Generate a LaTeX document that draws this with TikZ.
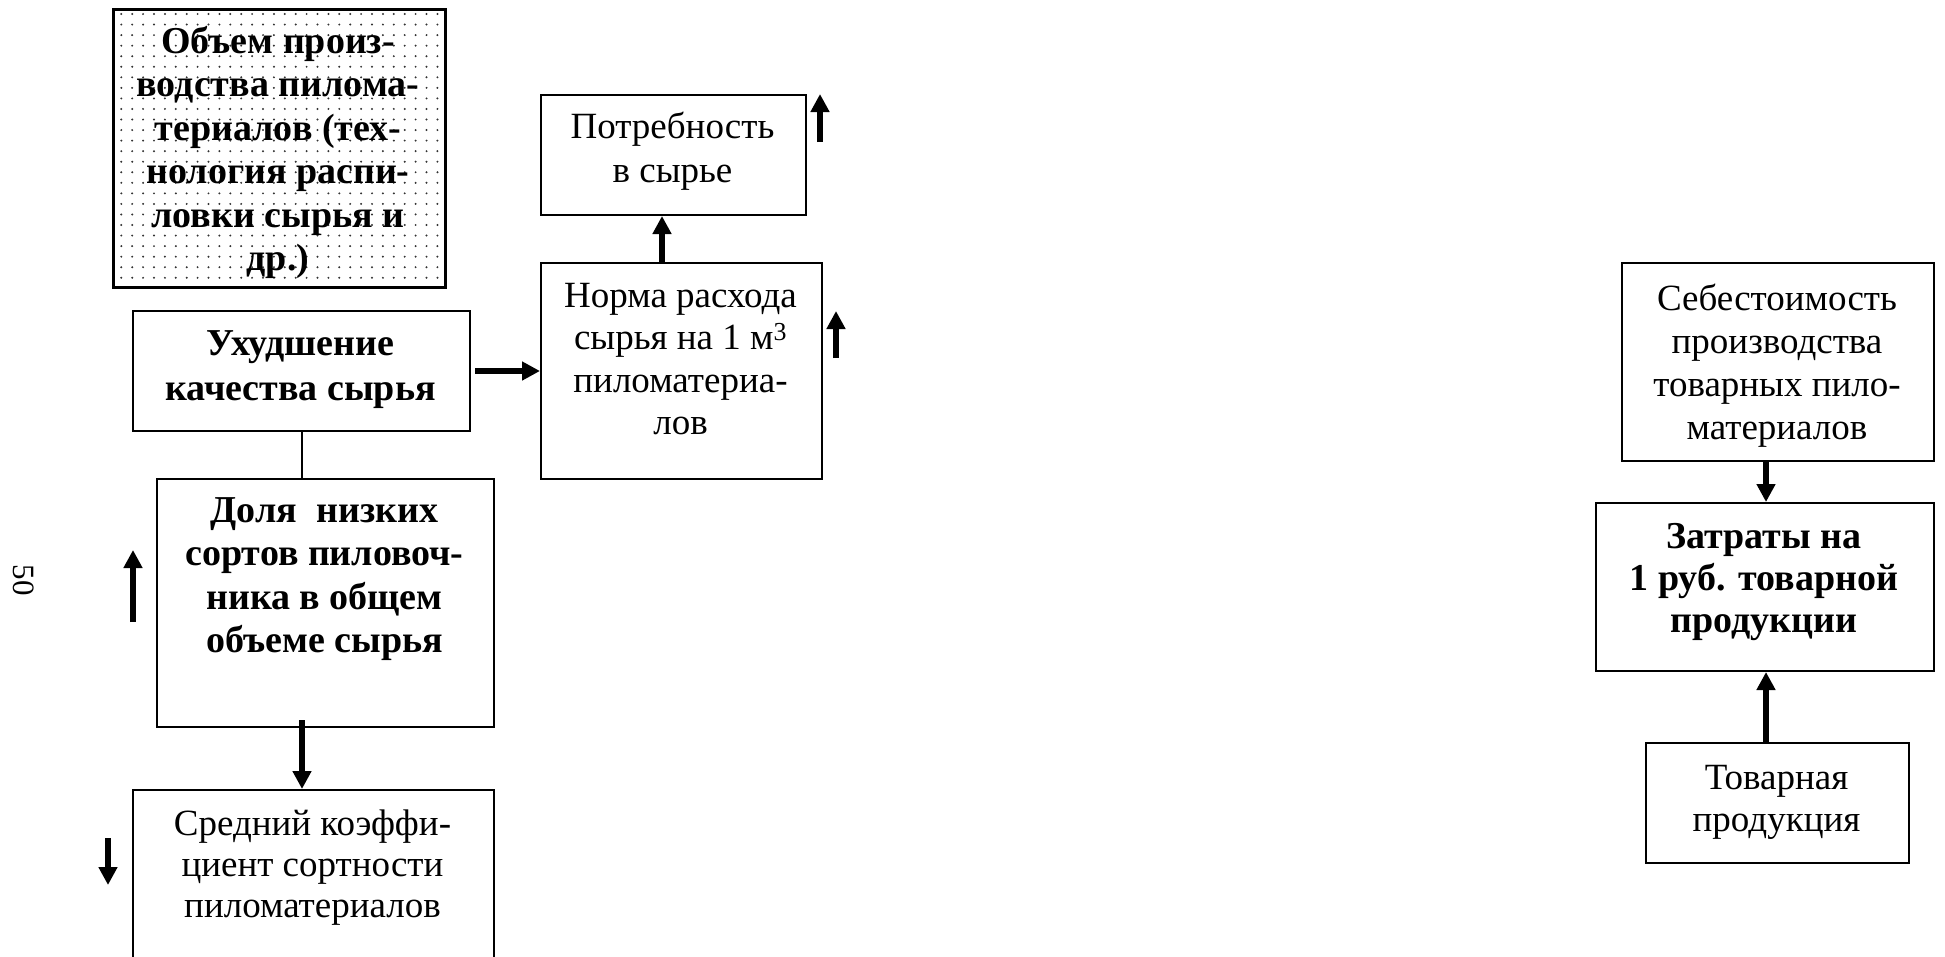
\documentclass[tikz,border=0pt]{standalone}
\usepackage{fontspec}
\setmainfont{Liberation Serif}
\usetikzlibrary{arrows.meta}
% height of the first text line, so that text nodes can be placed by baseline
\newcommand\lnA{\rule{0pt}{30pt}}
\begin{document}
\begin{tikzpicture}[x=1pt,y=-1pt,
  box/.style={draw, line width=2pt, inner sep=0pt, anchor=north west},
  txt/.style={anchor=north, inner sep=0pt, align=center,
    font=\fontsize{37}{43}\selectfont},
  btxt/.style={txt, font=\fontsize{38}{43.5}\selectfont\bfseries},
  fat/.style={line width=5.5pt, -{Triangle[width=18pt,length=18pt]}},
  thin/.style={line width=2pt},
  dotc/.style={fill=black!80},
]
\useasboundingbox (0,0) rectangle (1945,956);

% dotted box: volume of sawn timber production
\node[box, line width=2.5pt, minimum width=332pt, minimum height=278pt] (vol) at (112,8) {};
\foreach \i in {0,...,29}
  \foreach \j in {0,...,25}
    \fill[dotc] (121.3+\i*10.9, 14+\j*10.55) circle (1.1pt);
\node[btxt] (volt) at (278,23) {\lnA Объем произ-\\водства пилома-\\териалов (тех-\\нология распи-\\ловки сырья и\\др.)};

% left column
\node[box, minimum width=337pt, minimum height=120pt] (uh) at (132,310) {};
\node[btxt, font=\fontsize{38}{45}\selectfont\bfseries] (uht) at (300.5,325) {\lnA Ухудшение\\качества сырья};

\node[box, minimum width=337pt, minimum height=248pt] (dol) at (156,478) {};
\node[btxt] (dolt) at (324.5,492) {\lnA Доля\ \ низких\\сортов пиловоч-\\ника в общем\\объеме сырья};

\begin{scope}
  \clip (0,0) rectangle (1945,956);
  \node[box, minimum width=361pt, minimum height=220pt] (sred) at (132,789) {};
\end{scope}
\node[txt, font=\fontsize{37}{41}\selectfont] (sredt) at (312.5,805) {\lnA Средний коэффи-\\циент сортности\\пиломатериалов};

% middle column
\node[box, minimum width=265pt, minimum height=120pt] (pot) at (540,94) {};
\node[txt, font=\fontsize{37}{44}\selectfont] (pott) at (672.5,108) {\lnA Потребность\\в сырье};

\node[box, minimum width=281pt, minimum height=216pt] (norm) at (540,262) {};
\node[txt, font=\fontsize{37}{42.5}\selectfont] (normt) at (680.5,277) {\lnA Норма расхода\\сырья на 1 м\textsuperscript{3}\\пиломатериа-\\лов};

% right column
\node[box, minimum width=312pt, minimum height=198pt] (seb) at (1621,262) {};
\node[txt] (sebt) at (1777,280) {\lnA Себестоимость\\производства\\товарных пило-\\материалов};

\node[box, minimum width=338pt, minimum height=168pt] (zat) at (1595,502) {};
\node[btxt, font=\fontsize{38}{42}\selectfont\bfseries] (zatt) at (1764,518) {\lnA Затраты на\\1 руб. товарной\\продукции};

\node[box, minimum width=263pt, minimum height=120pt] (tov) at (1645,742) {};
\node[txt, font=\fontsize{37}{42}\selectfont] (tovt) at (1776.5,759) {\lnA Товарная\\продукция};

% page number
\node[rotate=-90, inner sep=0pt, font=\fontsize{31}{31}\selectfont] (pg) at (24,580) {50};

% connectors
\draw[fat] ([xshift=4pt]uh.east) -- (norm.west);
\draw[fat] ([xshift=-19.5pt]norm.north) -- ([xshift=-11.5pt]pot.south);
\draw[thin] (uh.south) -- (uh.south |- dol.north);
\draw[fat] ([xshift=-23.5pt,yshift=8pt]dol.south) -- ([xshift=-11.5pt]sred.north);
\draw[fat] ([xshift=-12pt]seb.south) -- ([xshift=1pt]zat.north);
\draw[fat] ([xshift=-11.5pt]tov.north) -- ([xshift=1pt]zat.south);

% trend arrows beside the boxes
\coordinate (potA) at (820,142);  \coordinate (potB) at (820,94);
\coordinate (normA) at (836,358); \coordinate (normB) at (836,311);
\coordinate (dolA) at (133,622);  \coordinate (dolB) at (133,550);
\coordinate (sredA) at (108,838); \coordinate (sredB) at (108,885);
\draw[fat] (potA) -- (potB);
\draw[fat] (normA) -- (normB);
\draw[fat] (dolA) -- (dolB);
\draw[fat] (sredA) -- (sredB);
\end{tikzpicture}
\end{document}
